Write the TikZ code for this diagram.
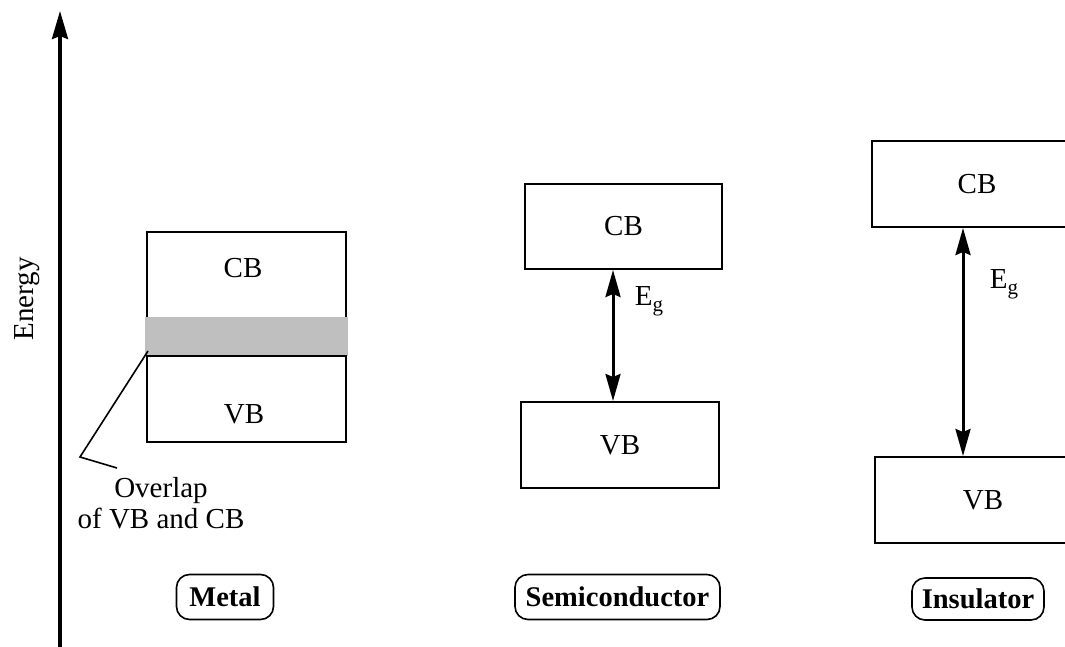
\documentclass[tikz,border=0pt]{standalone}
\usepackage{fontspec}
\setmainfont{Liberation Serif}
\usetikzlibrary{arrows.meta}
\begin{document}
\begin{tikzpicture}[x=1pt,y=-1pt,
  bandbox/.style={draw=black,line width=2pt,inner sep=0pt,font=\fontsize{29}{32}\selectfont},
  txt/.style={font=\fontsize{29}{31}\selectfont,inner sep=0pt},
  tag/.style={draw=black,line width=1.6pt,rounded corners=13pt,inner sep=0pt,
    minimum height=45pt,font=\fontsize{28.5}{30}\selectfont\bfseries},
  gaptip/.style={Stealth[length=27pt,width=15pt,inset=3pt]},
  gaparrow/.style={line width=3pt,{Stealth[length=27pt,width=15pt,inset=3pt]}-{Stealth[length=27pt,width=15pt,inset=3pt]}}]
\useasboundingbox (0,0) rectangle (1065,647);
\clip (0,0) rectangle (1065,647);

% energy axis
\coordinate (axbot) at (60,647);
\coordinate (axtop) at (60,11);
\draw[line width=3.5pt,-{Stealth[length=28pt,width=16pt,inset=3pt]}] (axbot) -- (axtop);
\node[txt,rotate=90] (energy) at (27,299) {Energy};

% metal: overlapping bands
\node[bandbox,minimum width=199pt,minimum height=210pt] (metal) at (246.5,337) {};
\fill[black!25] (145,317) rectangle (348,356);
\draw[line width=2pt] (metal.west |- 0,356) -- (metal.east |- 0,356);
\node[txt] (mcb) at (243,268) {CB};
\node[txt] (mvb) at (244,414) {VB};
\coordinate (lead1) at (148,351);
\coordinate (lead2) at (80,457);
\coordinate (lead3) at (117,468);
\draw[line width=1.6pt] (lead1) -- (lead2) -- (lead3);
\node[txt,align=center] (olap) at (161,503) {Overlap\\of VB and CB};

% semiconductor
\node[bandbox,minimum width=197pt,minimum height=85pt] (scb) at (623.5,226.5) {CB};
\node[bandbox,minimum width=198pt,minimum height=86pt] (svb) at (620,445) {VB};
\coordinate (sx) at (613,0);
\draw[gaparrow] (scb.south -| sx) -- (svb.north -| sx);
\node[txt] (seg) at (649,301) {E\lower6pt\hbox{\fontsize{21}{22}\selectfont g}};

% insulator
\node[bandbox,minimum width=210pt,minimum height=86pt] (icb) at (977,184) {CB};
\node[bandbox,minimum width=216pt,minimum height=86pt] (ivb) at (983,500) {VB};
\coordinate (ix) at (963,0);
\draw[gaparrow] (icb.south -| ix) -- (ivb.north -| ix);
\node[txt] (ieg) at (1004,284) {E\lower6pt\hbox{\fontsize{21}{22}\selectfont g}};

% material names
\node[tag,minimum width=97pt] (tmetal) at (225,597) {Metal};
\node[tag,minimum width=205pt] (tsemi) at (617.5,597) {Semiconductor};
\node[tag,minimum width=132pt,minimum height=42pt] (tins) at (978,599) {Insulator};
\end{tikzpicture}
\end{document}
